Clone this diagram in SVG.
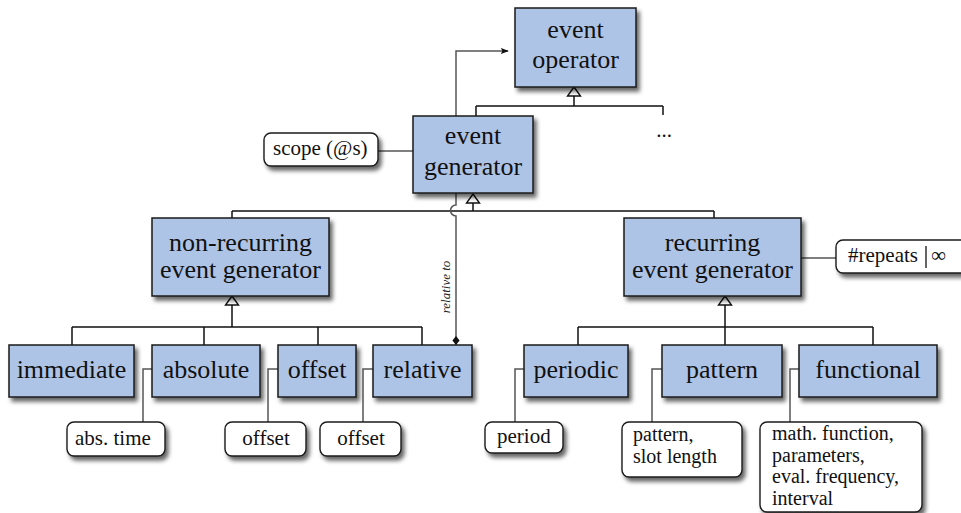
<svg xmlns="http://www.w3.org/2000/svg" width="961" height="513" viewBox="0 0 961 513">
  <defs>
    <filter id="shadow" x="-10%" y="-10%" width="130%" height="140%">
      <feDropShadow dx="3" dy="4" stdDeviation="2" flood-color="#000" flood-opacity="0.6"/>
    </filter>
    <marker id="arrow" viewBox="0 0 10 10" refX="9" refY="5" markerWidth="8" markerHeight="8" markerUnits="userSpaceOnUse" orient="auto">
      <path d="M0,1 L10,5 L0,9 L2,5 Z" fill="#111"/>
    </marker>
    <marker id="diamond" viewBox="0 0 10 10" refX="10" refY="5" markerWidth="9" markerHeight="9" markerUnits="userSpaceOnUse" orient="auto">
      <path d="M0,5 L5,1 L10,5 L5,9 Z" fill="#111"/>
    </marker>
  </defs>
  <style>
    .cls { fill: #aec4e7; stroke: #1a1a1a; stroke-width: 1.5; filter: url(#shadow); }
    .note { fill: #fff; stroke: #1a1a1a; stroke-width: 1.4; filter: url(#shadow); }
    text { font-family: 'Liberation Serif', 'Times New Roman', serif; fill: #111; }
    .t { font-size: 26px; text-anchor: middle; }
    .nt { font-size: 21px; }
    .ml { font-size: 20px; }
    .lbl { font-size: 13px; font-style: italic; fill: #222; text-anchor: middle; }
    .tree { fill: none; stroke: #111; stroke-width: 1.5; }
    .link { fill: none; stroke: #555; stroke-width: 1.5; }
    .tri { fill: #fff; stroke: #111; stroke-width: 1.4; }
  </style>
  <rect width="961" height="513" fill="#fff"/>

  <!-- connectors -->
  <g id="connectors">
    <!-- generalisation trees -->
    <path class="tree" d="M574,96 V106 M476,106 H663 M476,106 V116 M663,106 V115"/>
    <path class="tree" d="M473,203 V211 M232,211 H714 M232,211 V218 M714,211 V218"/>
    <path class="tree" d="M232,305 V327 M72,327 H422 M72,327 V345 M204,327 V345 M318,327 V345 M422,327 V345"/>
    <path class="tree" d="M725,305 V345 M578,327 H873 M578,327 V345 M873,327 V345"/>
    <polygon class="tri" points="574,87 580.5,96 567.5,96"/>
    <polygon class="tri" points="473,194 479.5,203 466.5,203"/>
    <polygon class="tri" points="232,296 238.5,305 225.5,305"/>
    <polygon class="tri" points="725,296 731.5,305 718.5,305"/>
    <!-- generator to operator -->
    <path class="link" d="M456,116 V51 H508" marker-end="url(#arrow)"/>
    <!-- relative to (hops over the tree line) -->
    <path class="link" d="M456,193 V205 A5.5,5.5 0 0 0 456,216 V345" marker-end="url(#diamond)"/>
    <text class="lbl" transform="translate(450,287) rotate(-90)">relative to</text>
    <!-- attribute notes -->
    <path class="link" d="M378,151 H413"/>
    <path class="link" d="M801,258 H836"/>
    <path class="link" d="M152,369 H143 V422"/>
    <path class="link" d="M278,369 H268 V422"/>
    <path class="link" d="M373,369 H363 V422"/>
    <path class="link" d="M524,369 H515 V422"/>
    <path class="link" d="M662,369 H652 V422"/>
    <path class="link" d="M799,369 H790 V422"/>
  </g>

  <!-- class nodes -->
  <g id="event-operator">
    <rect class="cls" x="515" y="8" width="121" height="79"/>
    <text class="t" x="575.5" y="38">event</text>
    <text class="t" x="575.5" y="68">operator</text>
  </g>
  <g id="more-operators">
    <text class="nt" x="664" y="137" text-anchor="middle">...</text>
  </g>
  <g id="event-generator">
    <rect class="cls" x="413" y="116" width="120" height="77"/>
    <text class="t" x="473" y="144">event</text>
    <text class="t" x="473" y="175">generator</text>
  </g>
  <g id="scope">
    <rect class="note" x="264" y="133" width="114" height="33" rx="7"/>
    <text class="nt" x="273" y="155">scope (@s)</text>
  </g>
  <g id="non-recurring">
    <rect class="cls" x="152" y="218" width="177" height="78"/>
    <text class="t" x="240.5" y="251">non-recurring</text>
    <text class="t" x="240.5" y="278">event generator</text>
  </g>
  <g id="recurring">
    <rect class="cls" x="624" y="218" width="177" height="78"/>
    <text class="t" x="712.5" y="251">recurring</text>
    <text class="t" x="712.5" y="278">event generator</text>
  </g>
  <g id="repeats">
    <rect class="note" x="836" y="240" width="140" height="33" rx="7"/>
    <text class="nt" x="848" y="262">#repeats</text>
    <line x1="926" y1="246" x2="926" y2="268" stroke="#111" stroke-width="1.3"/>
    <text class="nt" x="931" y="262">∞</text>
  </g>

  <g id="immediate">
    <rect class="cls" x="9" y="345" width="125" height="52"/>
    <text class="t" x="71.5" y="378">immediate</text>
  </g>
  <g id="absolute">
    <rect class="cls" x="152" y="345" width="108" height="52"/>
    <text class="t" x="206" y="378">absolute</text>
  </g>
  <g id="offset">
    <rect class="cls" x="278" y="345" width="78" height="52"/>
    <text class="t" x="317" y="378">offset</text>
  </g>
  <g id="relative">
    <rect class="cls" x="373" y="345" width="99" height="52"/>
    <text class="t" x="422.5" y="378">relative</text>
  </g>
  <g id="periodic">
    <rect class="cls" x="524" y="345" width="104" height="52"/>
    <text class="t" x="576" y="378">periodic</text>
  </g>
  <g id="pattern">
    <rect class="cls" x="662" y="345" width="120" height="52"/>
    <text class="t" x="722" y="378">pattern</text>
  </g>
  <g id="functional">
    <rect class="cls" x="799" y="345" width="138" height="52"/>
    <text class="t" x="868" y="378">functional</text>
  </g>

  <!-- attribute notes -->
  <g id="abs-time">
    <rect class="note" x="67" y="422" width="98" height="34" rx="7"/>
    <text class="nt" x="75" y="445">abs. time</text>
  </g>
  <g id="offset-note">
    <rect class="note" x="225" y="422" width="81" height="34" rx="7"/>
    <text class="nt" x="266" y="445" text-anchor="middle">offset</text>
  </g>
  <g id="relative-offset-note">
    <rect class="note" x="320" y="422" width="81" height="34" rx="7"/>
    <text class="nt" x="361" y="445" text-anchor="middle">offset</text>
  </g>
  <g id="period">
    <rect class="note" x="485" y="422" width="78" height="31" rx="7"/>
    <text class="nt" x="497" y="443">period</text>
  </g>
  <g id="pattern-note">
    <rect class="note" x="622" y="422" width="120" height="55" rx="7"/>
    <text class="ml" x="633" y="441">pattern,</text>
    <text class="ml" x="633" y="462.5">slot length</text>
  </g>
  <g id="functional-note">
    <rect class="note" x="760" y="422" width="162" height="90" rx="7"/>
    <text class="ml" x="772" y="440">math. function,</text>
    <text class="ml" x="772" y="461.5">parameters,</text>
    <text class="ml" x="772" y="483">eval. frequency,</text>
    <text class="ml" x="772" y="504.5">interval</text>
  </g>
</svg>
